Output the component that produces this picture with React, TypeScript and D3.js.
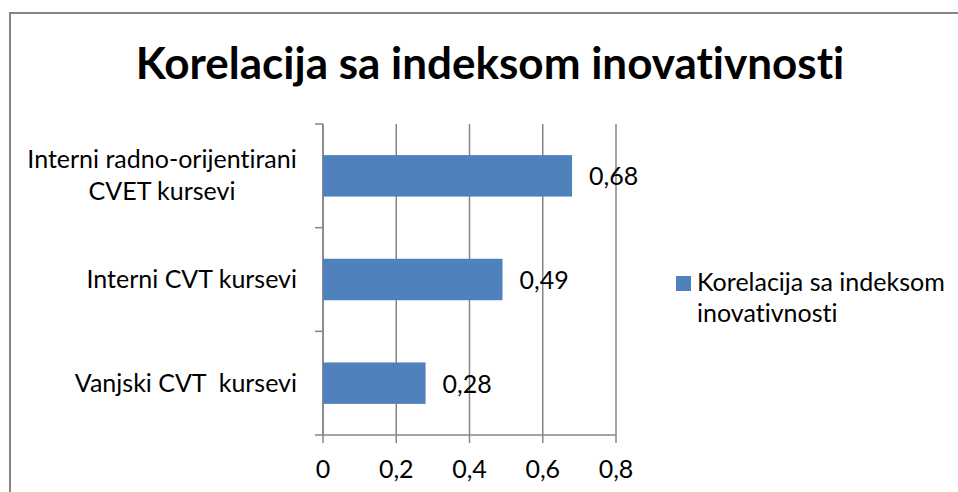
import React from 'react';
import * as d3 from 'd3';

const categories = ['Interni radno-orijentirani\nCVET kursevi', 'Interni CVT kursevi', 'Vanjski CVT  kursevi'];
const values = [0.68, 0.49, 0.28];
const xTicks = [0, 0.2, 0.4, 0.6, 0.8];
const seriesName = ['Korelacija sa indeksom', 'inovativnosti'];
const title = 'Korelacija sa indeksom inovativnosti';

const W = 958;
const H = 492;
const font = 'Lato, Calibri, sans-serif';
const barColor = '#4F81BD';
const gridColor = '#868686';
const fs = 25;

const App: React.FC = () => {
    const margin = { top: 124, left: 323, right: 616, bottom: 435 };

    const x = d3.scaleLinear().domain([0, 0.8]).range([margin.left, margin.right]);
    const y = d3.scaleBand<string>()
        .domain(categories)
        .range([margin.top, margin.bottom])
        .paddingInner(0.6)
        .paddingOuter(0.3);
    const bands = d3.scaleBand<string>().domain(categories).range([margin.top, margin.bottom]);
    const fmt = (v: number) => String(v).replace('.', ',');

    return (
        <div style={{ position: 'fixed', left: 0, top: 0, width: W, height: H, background: '#fff' }}>
            <svg width={W} height={H} style={{ display: 'block', fontVariantLigatures: 'none', fontFeatureSettings: '"liga" 0, "clig" 0' }} fontFamily={font}>
                {/* chart border */}
                <rect x={10} y={13} width={W + 20} height={H + 20} fill="#fff" stroke={gridColor} strokeWidth={2} />

                <text x={490} y={79} textAnchor="middle" fontSize={44} fontWeight="bold" fill="#000">{title}</text>

                {/* gridlines and bottom ticks */}
                {xTicks.map(t => (
                    <g key={t}>
                        <line x1={x(t)} x2={x(t)} y1={margin.top} y2={margin.bottom + 8} stroke={gridColor} strokeWidth={1.5} />
                        <text x={x(t)} y={478} textAnchor="middle" fontSize={fs} fill="#000">{fmt(t)}</text>
                    </g>
                ))}

                {/* category axis */}
                <line x1={margin.left} x2={margin.left} y1={margin.top} y2={margin.bottom} stroke={gridColor} strokeWidth={1.5} />
                <line x1={margin.left - 8} x2={margin.right} y1={margin.bottom} y2={margin.bottom} stroke={gridColor} strokeWidth={1.5} />
                {categories.map(c => (
                    <line key={c} x1={margin.left - 8} x2={margin.left} y1={bands(c)!} y2={bands(c)!} stroke={gridColor} strokeWidth={1.5} />
                ))}

                {categories.map((c, i) => {
                    const lines = c.split('\n');
                    const cy = bands(c)! + bands.bandwidth() / 2;
                    const lh = 32;
                    const y0 = cy + 8.5 - ((lines.length - 1) * lh) / 2;
                    return (
                        <g key={i}>
                            {lines.map((l, j) => (
                                <text key={j} x={lines.length > 1 ? 162 : 297} y={y0 + j * lh}
                                    textAnchor={lines.length > 1 ? 'middle' : 'end'} fontSize={fs} fill="#000"
                                    style={{ whiteSpace: 'pre' }}>{l}</text>
                            ))}
                        </g>
                    );
                })}

                {/* bars */}
                {categories.map((c, i) => (
                    <g key={c}>
                        <rect x={x(0)} y={y(c)!} width={x(values[i]) - x(0)} height={y.bandwidth()} fill={barColor} />
                        <text x={x(values[i]) + 17} y={y(c)! + y.bandwidth() / 2 + 9.5} fontSize={fs} fill="#000">{fmt(values[i])}</text>
                    </g>
                ))}

                {/* legend */}
                <rect x={676} y={276} width={15} height={15} fill={barColor} />
                <text x={697} y={291} fontSize={fs} fill="#000">{seriesName[0]}</text>
                <text x={697} y={322} fontSize={fs} fill="#000">{seriesName[1]}</text>
            </svg>
        </div>
    );
};

export default App;
